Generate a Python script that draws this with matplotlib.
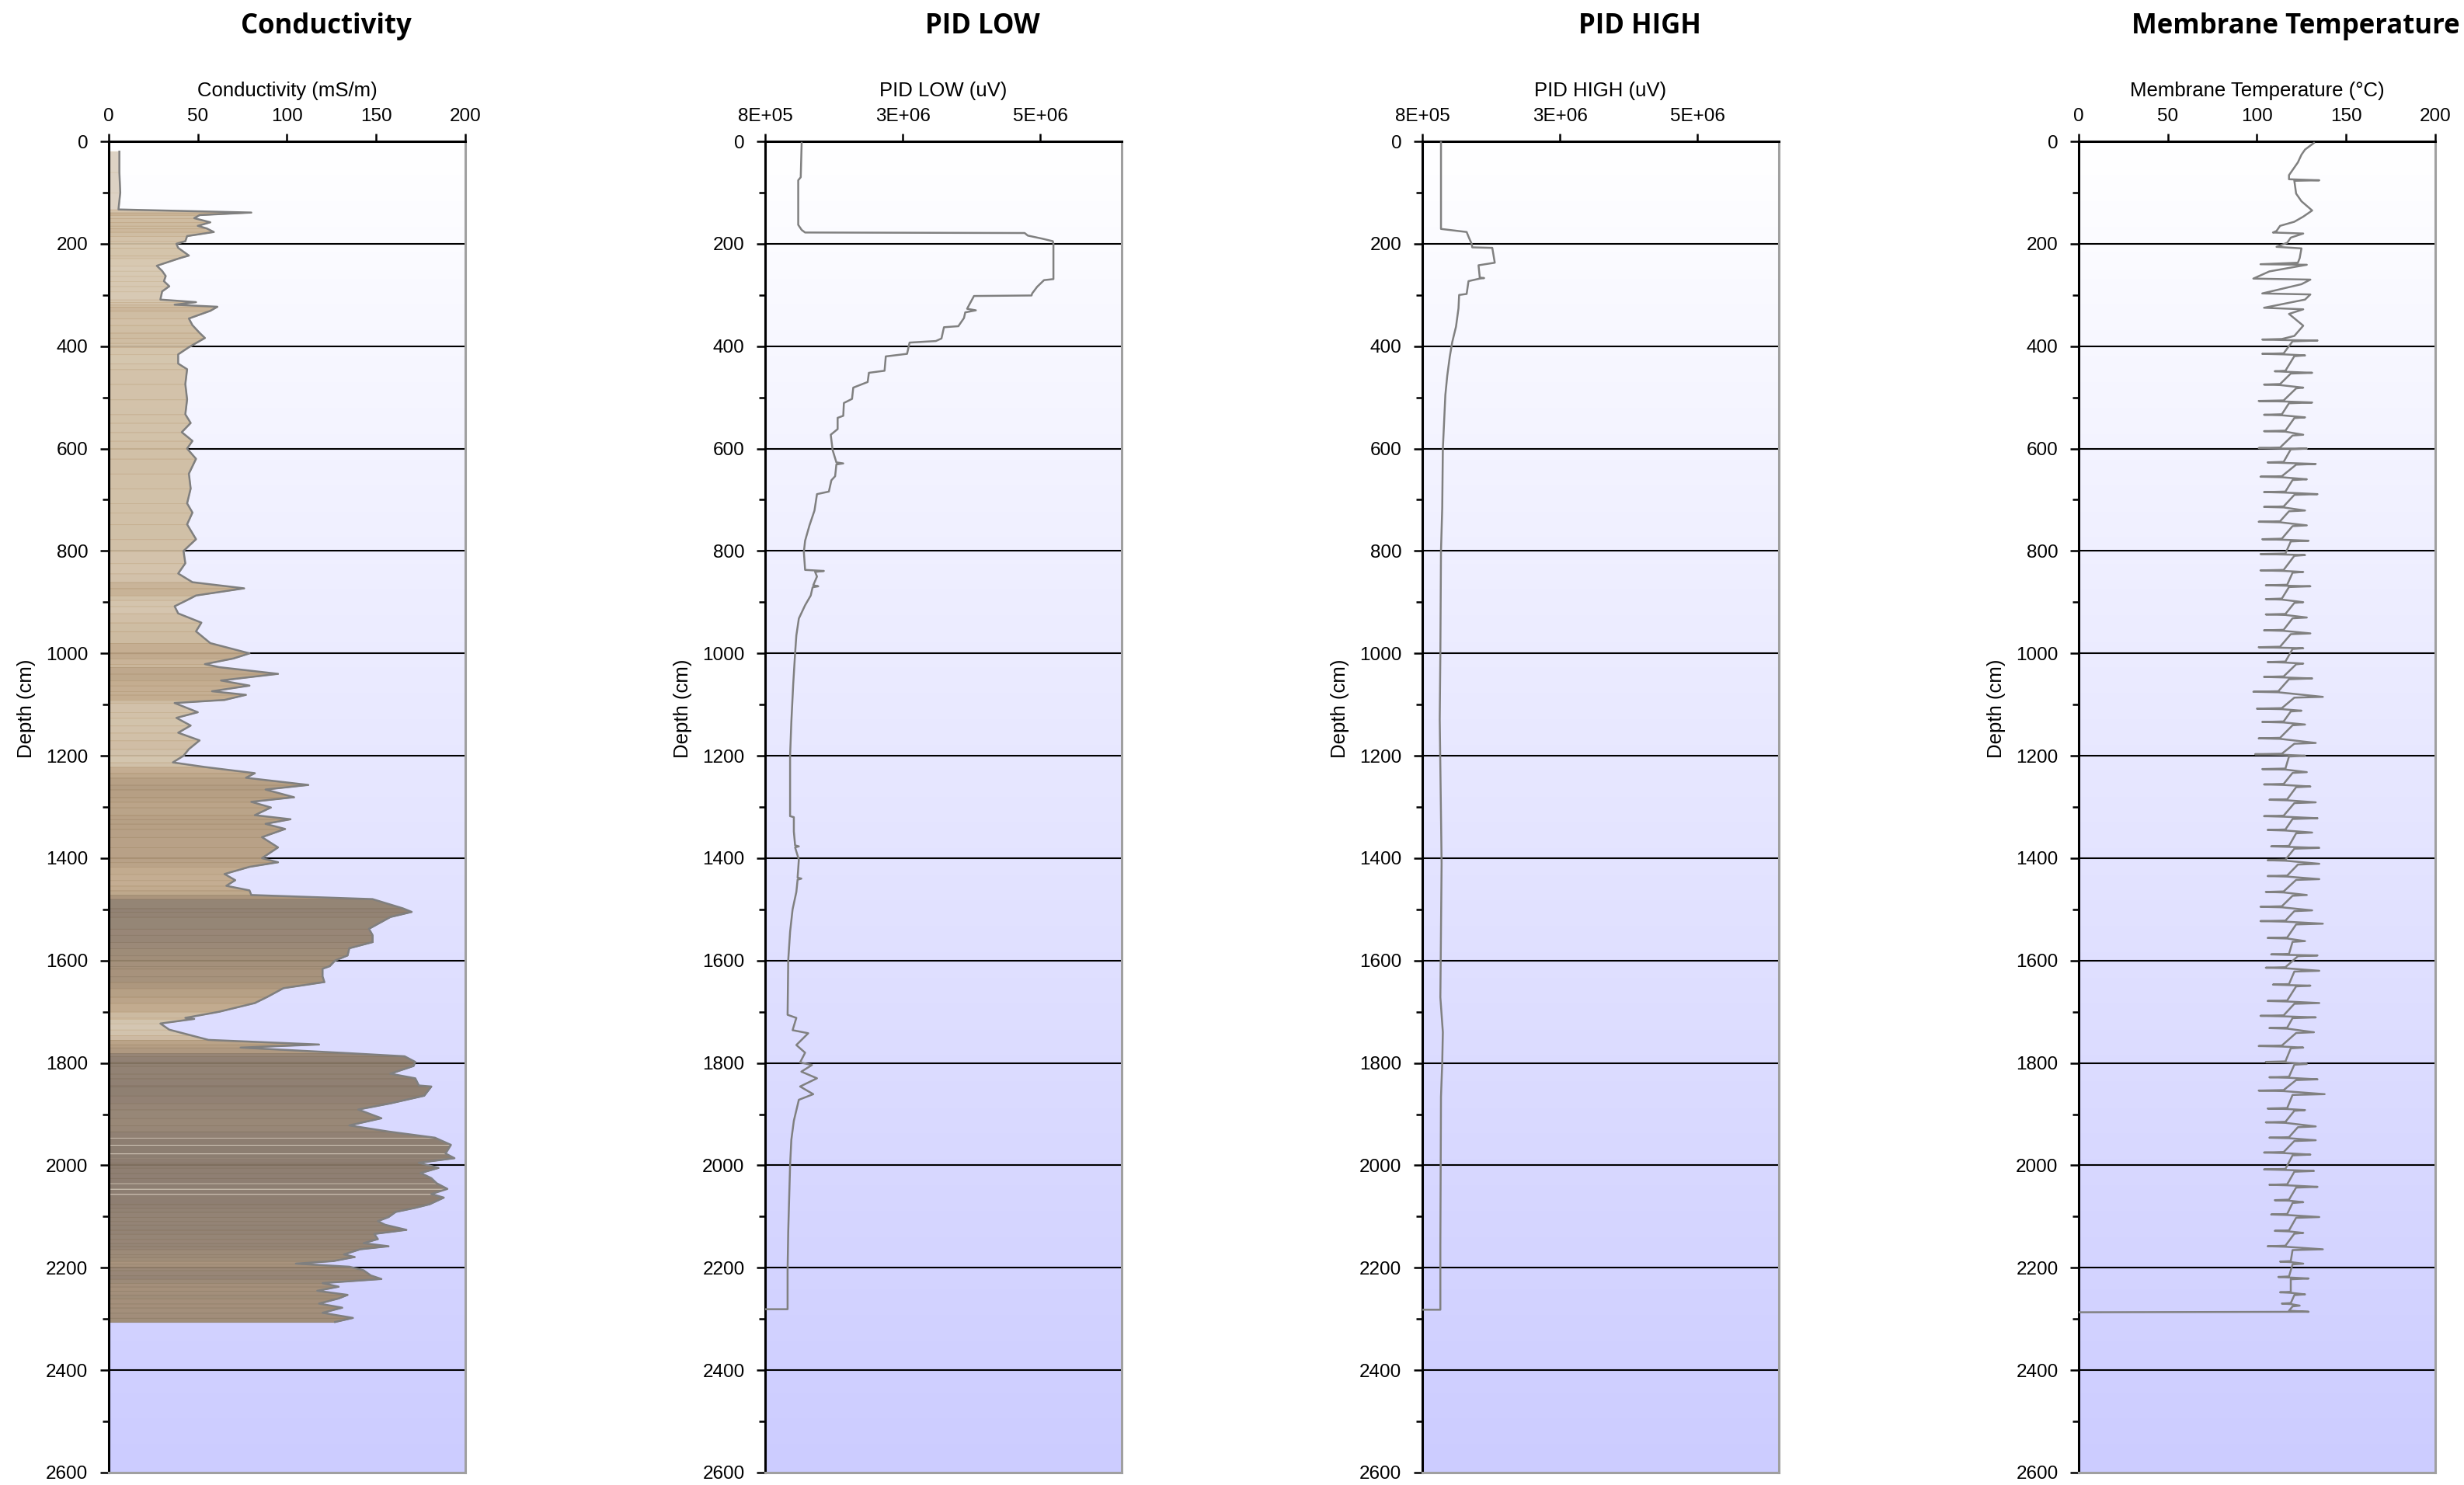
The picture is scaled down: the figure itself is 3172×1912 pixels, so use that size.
import numpy as np
import matplotlib
matplotlib.use('Agg')
import matplotlib.pyplot as plt
from matplotlib.colors import LinearSegmentedColormap

plt.rcParams['font.family'] = ['Liberation Sans Narrow', 'Liberation Sans', 'DejaVu Sans']

# ---- conductivity log (depth cm, mS/m)
cond_depth = [20, 60, 100, 133, 139, 144, 150, 158, 165, 170, 177, 185, 195, 200, 208, 223, 228, 243, 253, 263,
              273, 283, 293, 309, 314, 319, 323, 331, 346, 359, 374, 384, 394, 402, 416, 434, 445, 474, 504, 533,
              550, 568, 585, 600, 620, 649, 678, 707, 725, 748, 777, 800, 824, 844, 861, 873, 887, 896, 908, 922,
              940, 957, 980, 1000, 1010, 1021, 1027, 1040, 1053, 1063, 1074, 1081, 1091, 1097, 1115, 1126, 1141, 1155, 1170, 1187,
              1200, 1213, 1222, 1234, 1243, 1257, 1266, 1281, 1290, 1301, 1316, 1324, 1333, 1343, 1359, 1379, 1400, 1408, 1417, 1431,
              1443, 1454, 1463, 1472, 1480, 1498, 1505, 1515, 1538, 1550, 1564, 1576, 1590, 1600, 1611, 1616, 1631, 1642, 1654,
              1671, 1683, 1700, 1712, 1714, 1723, 1735, 1746, 1755, 1764, 1770, 1781, 1787, 1798, 1806, 1821, 1830, 1844, 1846, 1864,
              1879, 1891, 1908, 1922, 1934, 1946, 1960, 1977, 1986, 1995, 2005, 2015, 2025, 2035, 2046, 2056, 2063, 2076, 2083, 2091,
              2101, 2109, 2116, 2126, 2134, 2144, 2152, 2158, 2164, 2174, 2179, 2187, 2192, 2198, 2205, 2215, 2222, 2230, 2237, 2245,
              2253, 2260, 2270, 2278, 2288, 2298, 2306]
cond_value = [6, 6, 6.5, 5.5, 80, 51, 48, 57, 50, 55, 59, 44, 43, 38, 39, 45, 40, 27, 30, 32,
              31, 34, 30, 29, 49, 37, 61, 57, 45, 47, 51, 54, 49, 45, 39, 39, 44, 43, 44, 43,
              46, 41, 47, 44, 49, 45, 46, 44, 47, 44, 49, 42, 43, 39, 47, 76, 49, 44, 37, 39,
              52, 49, 57, 79, 70, 54, 62, 95, 63, 79, 58, 77, 65, 37, 50, 38, 46, 39, 51, 45,
              42, 36, 54, 82, 77, 112, 88, 104, 80, 91, 82, 102, 88, 99, 86, 95, 86, 95, 79, 65,
              71, 66, 79, 80, 148, 165, 170, 158, 146, 148, 148, 135, 134, 127, 124, 120, 120, 121, 98,
              89, 82, 62, 43, 48, 29, 34, 46, 56, 118, 74, 135, 166, 172, 171, 158, 172, 174, 181, 177,
              158, 140, 153, 135, 157, 183, 192, 189, 194, 174, 185, 175, 181, 184, 190, 181, 188, 180, 172, 161,
              157, 151, 155, 167, 149, 151, 143, 157, 141, 132, 138, 126, 105, 135, 143, 147, 153, 120, 129, 117,
              134, 129, 118, 131, 120, 137, 127]

# ---- PID LOW (depth cm, uV in millions)
pid_low_depth = [3, 70, 76, 163, 173, 178, 179, 184, 190, 195, 200, 269, 271, 284, 297, 301, 302, 320, 327, 330,
                 334, 345, 361, 363, 385, 390, 393, 415, 420, 448, 452, 470, 481, 503, 511, 536, 540, 562, 573, 603,
                 627, 629, 631, 654, 662, 684, 689, 721, 750, 780, 802, 837, 839, 841, 850, 867, 869, 871, 887, 906,
                 932, 965, 1000, 1060, 1134, 1200, 1318, 1320, 1348, 1375, 1377, 1379, 1403, 1438, 1440, 1442, 1466, 1500, 1544, 1600,
                 1706, 1712, 1736, 1742, 1765, 1780, 1799, 1804, 1817, 1830, 1846, 1861, 1872, 1913, 1950, 2000, 2130, 2204, 2281, 2281]
pid_low_value = [1.385, 1.37, 1.33, 1.33, 1.385, 1.44, 4.95, 5.00, 5.23, 5.40, 5.41, 5.41, 5.26, 5.15, 5.07, 5.06, 4.14, 4.06, 4.03, 4.17,
                 4.00, 3.98, 3.89, 3.66, 3.62, 3.53, 3.11, 3.07, 2.73, 2.71, 2.46, 2.44, 2.21, 2.19, 2.06, 2.05, 1.96, 1.96, 1.85, 1.88,
                 1.94, 2.05, 1.94, 1.92, 1.86, 1.82, 1.63, 1.59, 1.51, 1.44, 1.42, 1.44, 1.74, 1.60, 1.63, 1.57, 1.65, 1.56, 1.53, 1.44,
                 1.34, 1.30, 1.28, 1.25, 1.22, 1.20, 1.20, 1.26, 1.26, 1.28, 1.34, 1.28, 1.34, 1.32, 1.38, 1.32, 1.30, 1.24, 1.20, 1.17,
                 1.16, 1.30, 1.24, 1.49, 1.30, 1.44, 1.36, 1.55, 1.38, 1.63, 1.36, 1.57, 1.34, 1.26, 1.22, 1.20, 1.17, 1.16, 1.16, 0.80]

# ---- PID HIGH (depth cm, uV in millions)
pid_high_depth = [1, 171, 177, 189, 200, 207, 208, 237, 242, 266, 267, 268, 273, 298, 300, 326, 362, 392, 421, 458,
                  495, 600, 716, 800, 1000, 1129, 1410, 1672, 1740, 1800, 1866, 2157, 2282, 2282]
pid_high_value = [1.10, 1.10, 1.51, 1.55, 1.59, 1.60, 1.92, 1.96, 1.70, 1.72, 1.79, 1.72, 1.54, 1.51, 1.39, 1.38, 1.34, 1.28, 1.24, 1.20,
                  1.17, 1.13, 1.12, 1.10, 1.09, 1.08, 1.11, 1.09, 1.13, 1.12, 1.10, 1.09, 1.09, 0.80]

# ---- membrane temperature (deg C): smooth top section, then heating cycles
memb_top_depth = [3, 16, 26, 41, 51, 66, 74, 76, 77, 102, 117, 135, 147, 157, 165, 175, 178, 180, 188, 198,
                  206, 209, 228, 237, 240, 241, 254, 268, 270, 279, 297, 299, 309, 325, 328, 337, 360, 380]
memb_top_value = [132, 127, 125, 123, 121, 118, 118, 135, 121, 122, 125, 131, 126, 121, 113, 111, 109, 126, 119, 117,
                  111, 125, 124, 123, 102, 128, 107, 98, 130, 125, 103, 130, 127, 104, 126, 118, 126, 121]
memb_low_depth = [387, 415, 449, 475, 507, 534, 566, 599, 627, 655, 685, 714, 743, 777, 806, 838, 867, 894, 924, 955,
                  988, 1017, 1046, 1075, 1108, 1134, 1166, 1197, 1226, 1256, 1286, 1318, 1345, 1377, 1404, 1435, 1466, 1495, 1523, 1556,
                  1588, 1614, 1647, 1679, 1708, 1732, 1767, 1798, 1828, 1854, 1889, 1916, 1946, 1975, 2008, 2038, 2068, 2096, 2128, 2158,
                  2188, 2218, 2248, 2270]
memb_low = [103, 103, 110, 104, 101, 104, 104, 101, 106, 102, 104, 104, 101, 103, 102, 102, 105, 105, 105, 104,
            101, 106, 104, 98, 100, 103, 101, 99, 103, 104, 107, 104, 106, 108, 106, 106, 105, 102, 102, 106,
            108, 105, 109, 106, 102, 107, 101, 105, 107, 101, 106, 105, 107, 104, 104, 107, 110, 108, 110, 106,
            113, 112, 113, 114]
memb_base = [114, 115, 116, 113, 115, 114, 116, 113, 115, 114, 116, 115, 113, 114, 116, 115, 117, 114, 116, 115,
             113, 116, 115, 112, 114, 115, 113, 114, 116, 115, 117, 115, 116, 118, 116, 117, 115, 114, 116, 117,
             118, 116, 118, 117, 115, 117, 114, 116, 118, 115, 117, 116, 118, 115, 116, 117, 118, 117, 118, 116,
             119, 118, 119, 119]
memb_high_depth = [389, 418, 452, 481, 510, 539, 573, 600, 630, 660, 689, 721, 750, 780, 808, 841, 869, 900, 930, 961,
                   990, 1020, 1049, 1085, 1112, 1139, 1175, 1200, 1232, 1260, 1291, 1322, 1350, 1380, 1411, 1441, 1472, 1502, 1528, 1562,
                   1590, 1620, 1649, 1683, 1711, 1740, 1770, 1802, 1832, 1861, 1892, 1924, 1951, 1979, 2011, 2042, 2072, 2101, 2132, 2164,
                   2192, 2221, 2252, 2274]
memb_high = [134, 127, 131, 126, 131, 127, 126, 128, 133, 128, 134, 127, 128, 129, 127, 126, 130, 126, 128, 130,
             126, 126, 131, 137, 125, 127, 133, 127, 128, 130, 133, 134, 131, 135, 135, 135, 128, 131, 137, 127,
             134, 135, 130, 135, 133, 132, 126, 128, 134, 138, 127, 133, 133, 130, 132, 134, 126, 135, 126, 137,
             126, 129, 127, 124]
memb_settle = [120, 121, 119, 122, 118, 121, 120, 119, 122, 120, 121, 118, 120, 119, 121, 120, 118, 121, 120, 119,
               120, 122, 118, 121, 119, 120, 121, 118, 120, 122, 121, 120, 122, 121, 123, 122, 120, 121, 122, 120,
               123, 121, 122, 121, 120, 122, 119, 121, 122, 120, 121, 123, 121, 120, 121, 122, 120, 122, 121, 120,
               120, 119, 121, 120]
memb_end_depth = [2284, 2286, 2287]
memb_end_value = [118, 129, 0]

# axis settings
depth_max = 2600
pid_ticks = [0.8, 3.0, 5.2]
pid_tick_labels = ['8E+05', '3E+06', '5E+06']
lin_ticks = [0, 50, 100, 150, 200]

panels = ['Conductivity', 'PID LOW', 'PID HIGH', 'Membrane Temperature']
xlabels = ['Conductivity (mS/m)', 'PID LOW (uV)', 'PID HIGH (uV)', 'Membrane Temperature (°C)']


# builds the membrane trace from the top section and the heating cycles:
# drift down to a short cold dip, then a short hot spike, then settle again
def membrane_trace():
    d = list(memb_top_depth)
    v = list(memb_top_value)
    for i in range(len(memb_low_depth)):
        d += [memb_low_depth[i] - 1, memb_low_depth[i], memb_low_depth[i] + 1,
              memb_high_depth[i], memb_high_depth[i] + 1.5]
        v += [memb_base[i], memb_low[i], memb_base[i], memb_high[i], memb_settle[i]]
    d += memb_end_depth
    v += memb_end_value
    return np.array(d), np.array(v)


# draws background, grid, spines and ticks of one log track
def style(ax, xlim, ticks, ticklabels, xlabel):
    grad = np.linspace(0, 1, 256).reshape(-1, 1)
    bg = LinearSegmentedColormap.from_list('bg', ['#ffffff', '#ccccff'])
    ax.imshow(grad, cmap=bg, aspect='auto', extent=(xlim[0], xlim[1], depth_max, 0),
              zorder=0, interpolation='bilinear')
    ax.hlines(np.arange(200, depth_max, 200), xlim[0], xlim[1], color='black', lw=1.5, zorder=1)
    ax.set_xlim(xlim)
    ax.set_ylim(depth_max, 0)

    for side in ['top', 'left']:
        ax.spines[side].set_color('black')
        ax.spines[side].set_linewidth(2.2)
    for side in ['right', 'bottom']:
        ax.spines[side].set_color('#a0a0a0')
        ax.spines[side].set_linewidth(2.2)

    ax.xaxis.tick_top()
    ax.set_xticks(ticks)
    ax.set_xticklabels(ticklabels)
    ax.tick_params(axis='x', direction='out', length=7, width=1.8, labelsize=17.5, pad=8)
    ax.set_yticks(np.arange(0, depth_max + 1, 200))
    ax.set_yticks(np.arange(100, depth_max, 200), minor=True)
    ax.tick_params(axis='y', which='major', direction='out', length=8, width=1.8, labelsize=17.5, pad=11)
    ax.tick_params(axis='y', which='minor', direction='out', length=6, width=1.8)

    ax.set_xlabel(xlabel, fontsize=18.5)
    ax.xaxis.set_label_position('top')
    ax.xaxis.set_label_coords(0.5, 1.034)
    ax.set_ylabel('Depth (cm)', fontsize=18.5)
    ax.yaxis.set_label_coords(-0.205, 0.574)


fig = plt.figure(figsize=(31.72, 19.12), dpi=100)
lefts = [0.0441, 0.3105, 0.5772, 0.8436]
width = 0.1447
axes = [fig.add_axes([l, 0.0084, width, 0.8964]) for l in lefts]

# conductivity: filled log, shaded by value
soil = LinearSegmentedColormap.from_list('soil', [
    (0.0, '#dcd1c3'), (0.2, '#d2c1a6'), (0.35, '#c1a887'),
    (0.55, '#a99173'), (0.75, '#907e6a'), (1.0, '#847464')])
ax = axes[0]
style(ax, (0, 200), lin_ticks, [str(t) for t in lin_ticks], xlabels[0])
for i in range(len(cond_depth) - 1):
    v = 0.5 * (cond_value[i] + cond_value[i + 1])
    ax.fill_betweenx(cond_depth[i:i + 2], 0, cond_value[i:i + 2], color=soil(v / 200),
                     alpha=0.92, lw=0.6, edgecolor=soil(min(v / 200 + 0.08, 1)), zorder=2)
ax.plot(cond_value, cond_depth, color='#7f7f7f', lw=1.8, zorder=3)

# PID LOW / PID HIGH
for ax, d, v, lab in [(axes[1], pid_low_depth, pid_low_value, xlabels[1]),
                      (axes[2], pid_high_depth, pid_high_value, xlabels[2])]:
    style(ax, (0.8, 6.5), pid_ticks, pid_tick_labels, lab)
    ax.plot(v, d, color='#808080', lw=1.8, zorder=3)

# membrane temperature
ax = axes[3]
style(ax, (0, 200), lin_ticks, [str(t) for t in lin_ticks], xlabels[3])
md, mv = membrane_trace()
ax.plot(mv, md, color='#808080', lw=1.8, zorder=3)

# track titles
for ax, title in zip(axes, panels):
    pos = ax.get_position()
    fig.text(pos.x0 + pos.width / 2 + 0.0158, 0.982, title, ha='center', va='center',
             fontsize=25, fontweight='bold', family=['Open Sans', 'DejaVu Sans'])

fig.savefig('out.png', dpi=100, facecolor='white')
